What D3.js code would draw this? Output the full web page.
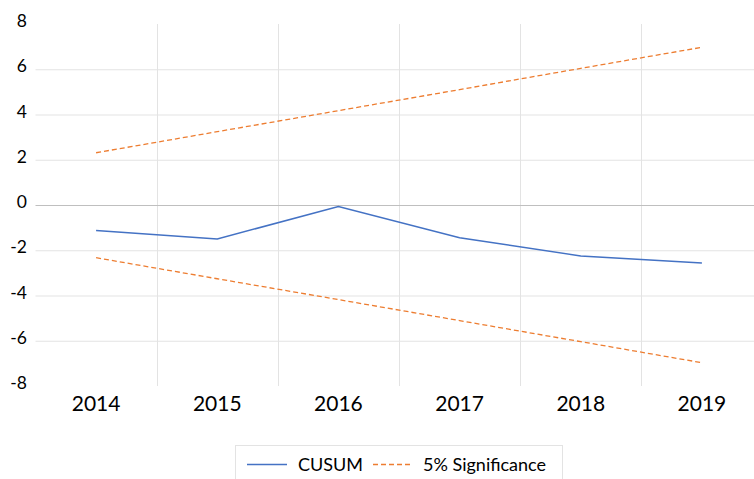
<!DOCTYPE html>
<html><head><meta charset="utf-8">
<script src="https://cdn.jsdelivr.net/npm/d3@7"></script>
<style>body{margin:0;background:#fff}svg{display:block}</style>
</head><body>
<svg id="c" width="754" height="479"></svg>
<script>
const years = ["2014","2015","2016","2017","2018","2019"];
const cusum = [-1.13,-1.50,-0.07,-1.45,-2.25,-2.56];
const upper = [2.31,3.24,4.17,5.10,6.04,6.97];
const lower = [-2.33,-3.26,-4.18,-5.11,-6.04,-6.97];
const yTicks = [-8,-6,-4,-2,0,2,4,6,8];

const svg = d3.select("#c");
const font = "Lato, 'Liberation Sans', sans-serif";
const x = d3.scaleBand().domain(years).range([35.5,762.5]).padding(0);
const y = d3.scaleLinear().domain([-8,8]).range([386,24]);

// horizontal gridlines (interior)
svg.append("g").selectAll("line").data(yTicks.filter(t=>t!==-8&&t!==8&&t!==0)).join("line")
  .attr("x1",35.5).attr("x2",762.5).attr("y1",d=>y(d)+0.5).attr("y2",d=>y(d)+0.5)
  .attr("stroke","#e3e3e3").attr("stroke-width",1);
// vertical gridlines (interior boundaries)
svg.append("g").selectAll("line").data(years.slice(1)).join("line")
  .attr("x1",d=>Math.round(x(d))+0.5).attr("x2",d=>Math.round(x(d))+0.5).attr("y1",24).attr("y2",386)
  .attr("stroke","#e3e3e3").attr("stroke-width",1);
// zero line
svg.append("line").attr("x1",35.5).attr("x2",762.5).attr("y1",y(0)+0.5).attr("y2",y(0)+0.5)
  .attr("stroke","#bfbfbf").attr("stroke-width",1.2);

// y labels
svg.append("g").selectAll("text").data(yTicks).join("text")
  .attr("x",27).attr("y",d=>y(d)-3).attr("dy","0.35em").attr("text-anchor","end")
  .attr("font-family",font).attr("font-size",17.5).attr("fill","#000").text(d=>d);
// x labels
svg.append("g").selectAll("text").data(years).join("text")
  .attr("x",d=>x(d)+x.bandwidth()/2).attr("y",411).attr("text-anchor","middle")
  .attr("font-family",font).attr("font-size",21).attr("fill","#000").text(d=>d);

const cx = (d,i)=>x(years[i])+x.bandwidth()/2;
const line = d3.line().x((d,i)=>cx(d,i)).y(d=>y(d));
svg.append("path").attr("d",line(upper)).attr("fill","none").attr("stroke","#ED7D31")
  .attr("stroke-width",1.3).attr("stroke-dasharray","5,3");
svg.append("path").attr("d",line(lower)).attr("fill","none").attr("stroke","#ED7D31")
  .attr("stroke-width",1.3).attr("stroke-dasharray","5,3");
svg.append("path").attr("d",line(cusum)).attr("fill","none").attr("stroke","#4472C4")
  .attr("stroke-width",1.5);

// legend
const lg = svg.append("g");
lg.append("rect").attr("x",235.5).attr("y",445.5).attr("width",327).attr("height",45)
  .attr("fill","#fff").attr("stroke","#e3e3e3");
lg.append("line").attr("x1",247).attr("x2",287).attr("y1",464.5).attr("y2",464.5)
  .attr("stroke","#4472C4").attr("stroke-width",1.5);
lg.append("text").attr("x",298).attr("y",470.5).attr("font-family",font).attr("font-size",18).text("CUSUM");
lg.append("line").attr("x1",373).attr("x2",413).attr("y1",464.5).attr("y2",464.5)
  .attr("stroke","#ED7D31").attr("stroke-width",1.3).attr("stroke-dasharray","5,3");
lg.append("text").attr("x",423).attr("y",470.5).attr("font-family",font).attr("font-size",18).text("5% Significance");
</script>
</body></html>
